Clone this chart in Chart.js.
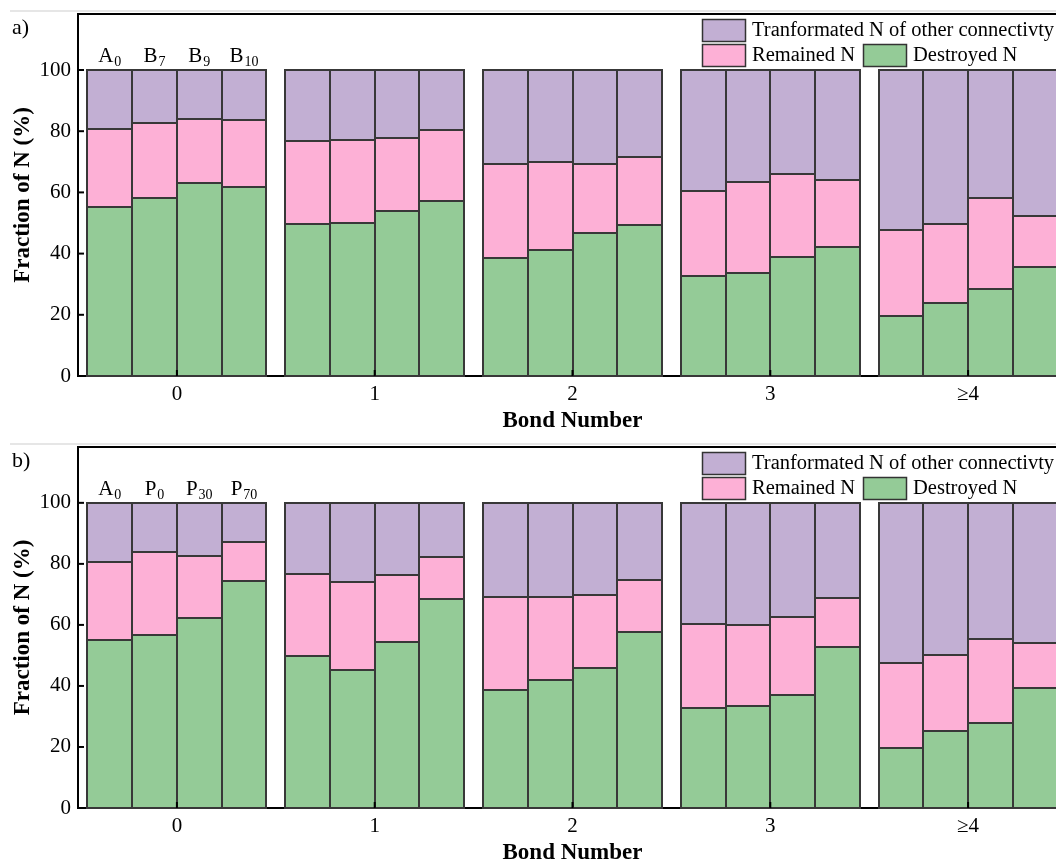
<!DOCTYPE html>
<html>
<head>
<meta charset="utf-8">
<script src="https://cdn.jsdelivr.net/npm/chart.js@4.4.1/dist/chart.umd.min.js"></script>
<style>
html, body { margin: 0; padding: 0; background: #fff; overflow: hidden; }
#wrap { width: 1056px; height: 865px; overflow: hidden; }
canvas { display: block; }
</style>
</head>
<body>
<div id="wrap">
  <canvas id="chartA" width="1080" height="433"></canvas>
  <canvas id="chartB" width="1080" height="432"></canvas>
</div>
<script>
var bondNumbers = ['0', '1', '2', '3', '\u22654'];
var yTicks = [0, 20, 40, 60, 80, 100];
var seriesNames = ['Destroyed N', 'Remained N', 'Tranformated N of other connectivty'];
var seriesColors = ['#94cb97', '#fdb0d6', '#c2afd3'];

// panel a) : A0, B7, B9, B10  (one row per sample, values per bond number)
var samplesA = [['A', '0'], ['B', '7'], ['B', '9'], ['B', '10']];
var destroyedA = [
    [55.1, 49.7, 38.7, 32.7, 19.7],
    [58.1, 50.0, 41.2, 33.8, 23.7],
    [63.0, 53.9, 46.8, 39.0, 28.3],
    [61.9, 57.1, 49.3, 42.2, 35.7]
];
var remainedA = [
    [25.5, 27.1, 30.5, 27.6, 27.9],
    [24.7, 27.1, 28.6, 29.6, 25.9],
    [21.0, 23.8, 22.5, 27.0, 29.9],
    [21.8, 23.4, 22.4, 21.9, 16.7]
];
var transformedA = [
    [19.4, 23.2, 30.8, 39.7, 52.4],
    [17.2, 22.9, 30.2, 36.6, 50.4],
    [16.0, 22.3, 30.7, 34.0, 41.8],
    [16.3, 19.5, 28.3, 35.9, 47.6]
];

// panel b) : A0, P0, P30, P70
var samplesB = [['A', '0'], ['P', '0'], ['P', '30'], ['P', '70']];
var destroyedB = [
    [55.1, 49.7, 38.7, 32.7, 19.7],
    [56.8, 45.3, 42.0, 33.3, 25.1],
    [62.2, 54.4, 45.8, 37.0, 28.0],
    [74.3, 68.6, 57.6, 52.9, 39.3]
];
var remainedB = [
    [25.5, 27.1, 30.5, 27.6, 27.9],
    [27.2, 28.6, 27.2, 26.7, 25.0],
    [20.5, 21.9, 23.9, 25.7, 27.3],
    [12.8, 13.5, 17.1, 15.8, 14.9]
];
var transformedB = [
    [19.4, 23.2, 30.8, 39.7, 52.4],
    [16.0, 26.1, 30.8, 40.0, 49.9],
    [17.3, 23.7, 30.3, 37.3, 44.7],
    [12.9, 17.9, 25.3, 31.3, 45.8]
];

var serif = '"Liberation Serif", "Times New Roman", serif';
Chart.defaults.color = '#000';
Chart.defaults.font.family = serif;

function buildDatasets(destroyed, remained, transformed) {
    var sets = [];
    for (var s = 0; s < destroyed.length; s++) {
        [destroyed[s], remained[s], transformed[s]].forEach(function (vals, k) {
            sets.push({
                label: seriesNames[k],
                data: vals,
                stack: 's' + s,
                xAxisID: 'x',
                backgroundColor: seriesColors[k],
                borderWidth: 0,
                inflateAmount: 0
            });
        });
    }
    return sets;
}

// crisp outlines around every bar segment, taken from the bar elements
var outlines = {
    id: 'outlines',
    afterDatasetsDraw: function (chart) {
        var ctx = chart.ctx;
        ctx.save();
        ctx.strokeStyle = '#383838';
        ctx.lineWidth = 2;
        chart.data.datasets.forEach(function (ds, i) {
            chart.getDatasetMeta(i).data.forEach(function (el) {
                var p = el.getProps(['x', 'y', 'base', 'width'], true);
                var l = Math.round(p.x - p.width / 2), r = Math.round(p.x + p.width / 2);
                var t = Math.round(Math.min(p.y, p.base)), b = Math.round(Math.max(p.y, p.base));
                ctx.strokeRect(l, t, r - l, b - t);
            });
        });
        ctx.restore();
    }
};

var decor = {
    id: 'decor',
    beforeDraw: function (chart) {
        var ctx = chart.ctx;
        ctx.save();
        ctx.strokeStyle = '#e6e6e6';
        ctx.lineWidth = 2;
        ctx.beginPath();
        ctx.moveTo(10, 11);
        ctx.lineTo(chart.width, 11);
        ctx.stroke();
        ctx.restore();
    },
    afterDraw: function (chart, args, opts) {
        var ctx = chart.ctx, area = chart.chartArea;
        var xs = chart.scales.x, ys = chart.scales.y;
        ctx.save();
        // inward tick marks
        ctx.strokeStyle = '#000';
        ctx.lineWidth = 2;
        yTicks.forEach(function (v) {
            var py = ys.getPixelForValue(v);
            ctx.beginPath(); ctx.moveTo(area.left, py); ctx.lineTo(area.left + 6, py); ctx.stroke();
        });
        bondNumbers.forEach(function (b, i) {
            var px = xs.getPixelForValue(i);
            ctx.beginPath(); ctx.moveTo(px, area.bottom); ctx.lineTo(px, area.bottom - 6); ctx.stroke();
        });

        // panel letter
        ctx.fillStyle = '#000';
        ctx.textBaseline = 'alphabetic';
        ctx.textAlign = 'left';
        ctx.font = '22px ' + serif;
        ctx.fillText(opts.letter, 12, 34);

        // sample names above the first group
        var base = ys.getPixelForValue(100) - 8;
        opts.samples.forEach(function (s, i) {
            var bar = chart.getDatasetMeta(i * 3 + 2).data[0];
            ctx.font = '21px ' + serif;
            var w1 = ctx.measureText(s[0]).width;
            ctx.font = '14px ' + serif;
            var w2 = ctx.measureText(s[1]).width;
            var x0 = bar.x - (w1 + w2 + 1) / 2;
            ctx.font = '21px ' + serif;
            ctx.fillText(s[0], x0, base);
            ctx.font = '14px ' + serif;
            ctx.fillText(s[1], x0 + w1 + 1, base + 4);
        });

        // legend
        var items = [
            { k: 2, bx: 702, by: area.top + 5 },
            { k: 1, bx: 702, by: area.top + 30 },
            { k: 0, bx: 863, by: area.top + 30 }
        ];
        ctx.font = '20.5px ' + serif;
        ctx.textBaseline = 'middle';
        items.forEach(function (it) {
            ctx.fillStyle = seriesColors[it.k];
            ctx.fillRect(it.bx, it.by, 44, 23);
            ctx.strokeStyle = '#333';
            ctx.lineWidth = 1.5;
            ctx.strokeRect(it.bx + 0.5, it.by + 0.5, 43, 22);
            ctx.fillStyle = '#000';
            ctx.fillText(seriesNames[it.k], it.bx + 50, it.by + 12);
        });
        ctx.restore();
    }
};

function makeChart(id, letter, samples, destroyed, remained, transformed) {
    return new Chart(document.getElementById(id), {
        type: 'bar',
        data: {
            labels: bondNumbers,
            datasets: buildDatasets(destroyed, remained, transformed)
        },
        options: {
            responsive: false,
            animation: false,
            layout: { padding: { top: 14, right: 13, left: 0, bottom: 0 } },
            datasets: { bar: { barPercentage: 1, categoryPercentage: 0.905 } },
            plugins: {
                legend: { display: false },
                tooltip: { enabled: false },
                decor: { letter: letter, samples: samples }
            },
            scales: {
                x: {
                    type: 'category',
                    position: 'bottom',
                    stacked: true,
                    grid: { display: false, drawTicks: false },
                    border: { display: true, width: 2, color: '#000' },
                    ticks: { font: { size: 21, family: serif }, padding: 6, color: '#000' },
                    title: {
                        display: true, text: 'Bond Number', color: '#000',
                        font: { size: 23, weight: 'bold', family: serif, lineHeight: 1 },
                        padding: 0
                    },
                    afterFit: function (s) {
                        s.height = 57;
                        s.paddingLeft = 0; s.paddingRight = 0;
                    }
                },
                x2: {
                    type: 'category',
                    position: 'top',
                    grid: { display: false, drawTicks: false },
                    border: { display: true, width: 2, color: '#000' },
                    ticks: { display: false },
                    afterFit: function (s) {
                        s.height = 0;
                        s.paddingLeft = 0; s.paddingRight = 0;
                    }
                },
                y: {
                    stacked: true,
                    min: 0,
                    max: 118.3,
                    grid: { display: false, drawTicks: false },
                    border: { display: true, width: 2, color: '#000' },
                    ticks: { font: { size: 21, family: serif }, padding: 7, color: '#000' },
                    afterBuildTicks: function (s) {
                        s.ticks = yTicks.map(function (v) { return { value: v }; });
                    },
                    title: {
                        display: true, text: 'Fraction of N (%)', color: '#000',
                        font: { size: 23, weight: 'bold', family: serif, lineHeight: 1 },
                        padding: { top: 12, bottom: 0 }
                    },
                    afterFit: function (s) {
                        s.width = 78;
                        s.paddingTop = 0; s.paddingBottom = 0;
                    }
                }
            }
        },
        plugins: [outlines, decor]
    });
}

makeChart('chartA', 'a)', samplesA, destroyedA, remainedA, transformedA);
makeChart('chartB', 'b)', samplesB, destroyedB, remainedB, transformedB);
</script>
</body>
</html>
